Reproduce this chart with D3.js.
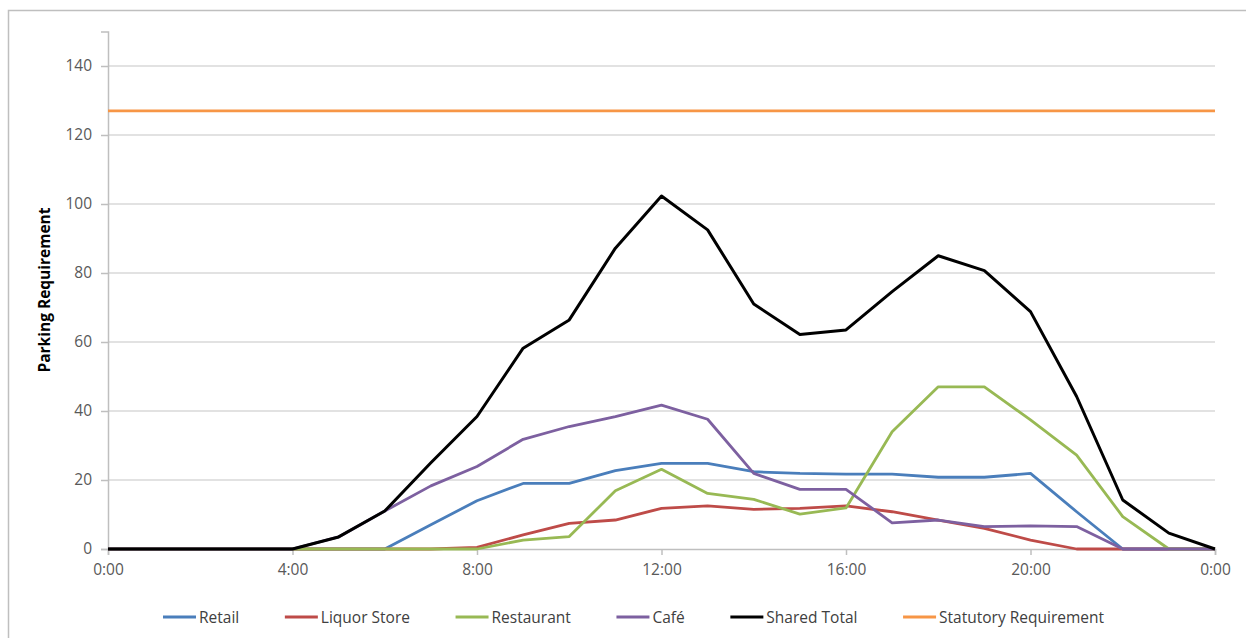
<!DOCTYPE html>
<html><head><meta charset="utf-8">
<script src="https://cdn.jsdelivr.net/npm/d3@7/dist/d3.min.js"></script>
<style>body{margin:0;background:#fff}svg{display:block}</style>
</head><body><svg id="c" width="1246" height="638"></svg>
<script>
const hours = d3.range(0, 25);
const xTickLabels = ["0:00","4:00","8:00","12:00","16:00","20:00","0:00"];
const yTicks = [0,20,40,60,80,100,120,140];
const retail     = [0,0,0,0,0,0,0,7,14,19,19,22.7,24.8,24.8,22.4,21.9,21.7,21.7,20.8,20.8,21.9,10.8,0,0,0];
const liquor     = [0,0,0,0,0,0,0,0,0.5,4.1,7.4,8.4,11.8,12.5,11.5,11.8,12.5,10.8,8.4,6,2.6,0,0,0,0];
const restaurant = [0,0,0,0,0,0,0,0,0,2.6,3.6,16.9,23.1,16.1,14.4,10.1,11.9,34,47,47,37.4,27.2,9.4,0,0];
const cafe       = [0,0,0,0,0,3.5,11,18.3,23.9,31.8,35.5,38.4,41.7,37.6,21.9,17.3,17.3,7.6,8.4,6.5,6.7,6.5,0,0,0];
const sharedTotal= [0,0,0,0,0,3.5,11,25,38.4,58.2,66.4,87.2,102.3,92.5,71,62.2,63.5,74.6,85,80.7,68.8,44.2,14.2,4.6,0];
const statutory  = hours.map(() => 127);
const seriesNames = ["Retail","Liquor Store","Restaurant","Café","Shared Total","Statutory Requirement"];
const seriesData = [retail, liquor, restaurant, cafe, sharedTotal, statutory];
const colors = ["#4A7EBB","#BE4B48","#98B954","#7D60A0","#000000","#F79646"];

const svg = d3.select("#c");
const L = 108, R = 1215, T = 31.5, B = 549;
const x = d3.scaleLinear().domain([0,24]).range([L,R]);
const y = d3.scaleLinear().domain([0,150]).range([B,T]);
const FF = "'Open Sans', sans-serif";

// frame
svg.append("rect").attr("x",8.5).attr("y",10.5).attr("width",1250).attr("height",640)
  .attr("fill","none").attr("stroke","#bfbfbf").attr("stroke-width",1.5);

// gridlines
svg.append("g").selectAll("line").data(yTicks.filter(d=>d>0)).join("line")
  .attr("x1",L).attr("x2",R).attr("y1",d=>y(d)).attr("y2",d=>y(d))
  .attr("stroke","#d9d9d9").attr("stroke-width",1.5);

// y axis
const yAxis = svg.append("g").attr("transform",`translate(${L},0)`)
  .call(d3.axisLeft(y).tickValues(yTicks).tickSize(7).tickPadding(9));
yAxis.select(".domain").attr("stroke","#bfbfbf").attr("stroke-width",1.5);
yAxis.selectAll(".tick line").attr("stroke","#bfbfbf").attr("stroke-width",1.5);
yAxis.selectAll("text").attr("fill","#595959").style("font-family",FF).style("font-size","15.5px");

// x axis
const xAxis = svg.append("g").attr("transform",`translate(0,${B})`)
  .call(d3.axisBottom(x).tickValues([0,4,8,12,16,20,24]).tickFormat((d,i)=>xTickLabels[i]).tickSize(6).tickPadding(9));
xAxis.select(".domain").attr("stroke","#bfbfbf").attr("stroke-width",1.5);
xAxis.selectAll(".tick line").attr("stroke","#bfbfbf").attr("stroke-width",1.5);
xAxis.selectAll("text").attr("fill","#595959").style("font-family",FF).style("font-size","15.5px");

// y title
svg.append("text").attr("transform","translate(50,290) rotate(-90)")
  .attr("text-anchor","middle").attr("font-weight","bold")
  .style("font-family",FF).style("font-size","15.5px").attr("fill","#000")
  .text("Parking Requirement");

// lines
const line = d3.line().x((d,i)=>x(hours[i])).y(d=>y(d));
const order = [5,0,1,2,3,4];
svg.append("g").selectAll("path").data(order).join("path")
  .attr("d",i=>line(seriesData[i])).attr("fill","none")
  .attr("stroke",i=>colors[i]).attr("stroke-width",i=> i===4?3:2.8)
  .attr("stroke-linejoin","round");

// legend
const lg = svg.append("g");
const items = lg.selectAll("g").data(seriesNames).join("g");
items.append("line").attr("x1",0).attr("x2",33).attr("y1",0).attr("y2",0)
  .attr("stroke",(d,i)=>colors[i]).attr("stroke-width",3);
const texts = items.append("text").attr("x",36).attr("y",5.5).text(d=>d)
  .style("font-family",FF).style("font-size","15.5px").attr("fill","#404040");
const widths = texts.nodes().map(n=>36+n.getComputedTextLength());
const startX = 163, endX = 1104;
const total = d3.sum(widths);
const gap = (endX - startX - total) / (widths.length - 1);
let cx = startX;
items.attr("transform",(d,i)=>{const t=`translate(${cx},617)`; cx += widths[i] + gap; return t;});
</script></body></html>
